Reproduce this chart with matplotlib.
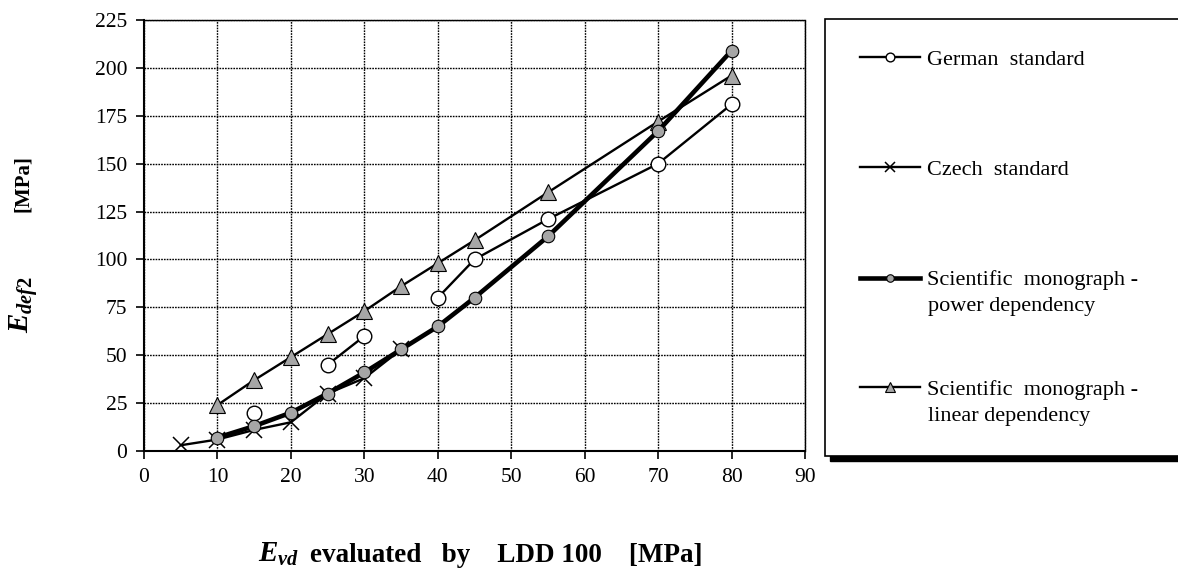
import numpy as np
import matplotlib
matplotlib.use("Agg")
import matplotlib.pyplot as plt
from matplotlib.patches import Rectangle

plt.rcParams['font.family'] = 'Liberation Serif'
plt.rcParams['mathtext.fontset'] = 'custom'
plt.rcParams['mathtext.it'] = 'Liberation Serif:bold:italic'
plt.rcParams['mathtext.rm'] = 'Liberation Serif:bold'

# data (NaN = break in the German line)
german_x = [15, np.nan, 25, 30, np.nan, 40, 45, 55, 70, 80]
german_y = [20, np.nan, 45, 60, np.nan, 80, 100, 121, 150, 181]

czech_x = [5, 10, 15, 20, 25, 30, 35]
czech_y = [3, 6, 11, 15, 30, 38, 53]

power_x = [10, 15, 20, 25, 30, 35, 40, 45, 55, 70, 80]
power_y = [7, 13, 20, 30, 41, 53, 65, 80, 112, 167, 209]

linear_x = [10, 15, 20, 25, 30, 35, 40, 45, 55, 70, 80]
linear_y = [24, 37, 49, 61, 73, 86, 98, 110, 135, 172, 196]

labels_first = ['German  standard', 'Czech  standard',
                'Scientific  monograph -', 'Scientific  monograph -']
labels_second = ['', '', 'power dependency', 'linear dependency']

fig = plt.figure(figsize=(11.78, 5.68), dpi=100)
ax = fig.add_axes([144/1178, 1-451/568, (805-144)/1178, (451-20)/568])

grey = '#a6a6a6'
l_ger, = ax.plot(german_x, german_y, color='black', lw=1.7, marker='o', ms=10.5,
                 mfc='white', mec='black', mew=1.0, zorder=4)
l_cz, = ax.plot(czech_x, czech_y, color='black', lw=1.7, marker='x', ms=11,
                mew=1.1, zorder=3)
l_pow, = ax.plot(power_x, power_y, color='black', lw=3.3, marker='o', ms=9,
                 mfc=grey, mec='black', mew=0.8, zorder=5)
l_lin, = ax.plot(linear_x, linear_y, color='black', lw=1.7, marker='^', ms=11,
                 mfc=grey, mec='black', mew=0.8, zorder=4)

ax.set_xlim(0, 90)
ax.set_ylim(0, 225)
ax.set_xticks(range(0, 91, 10))
ax.set_yticks(range(0, 226, 25))
ax.tick_params(labelsize=15.5, direction='out', length=6, width=1.2, pad=6)
ax.grid(True, color='black', linestyle=(0, (1.2, 0.8)), linewidth=1.0)
ax.set_axisbelow(True)
for s in ['top', 'right']:
    ax.spines[s].set_linestyle((0, (1.2, 0.8)))
    ax.spines[s].set_linewidth(1.0)
ax.spines['left'].set_linewidth(1.5)
ax.spines['bottom'].set_linewidth(1.5)

# y axis title (two parts, as in the original)
fig.text(23/1178, 1-304/568, r'$E_{def2}$', rotation=90, fontsize=21,
         ha='center', va='center')
fig.text(23/1178, 1-184/568, '[MPa]', rotation=90, fontsize=15,
         fontweight='bold', ha='center', va='center')
# x axis title
fig.text(258/1178, 1-562/568, r'$E_{vd}$', fontsize=21, ha='left', va='baseline')
fig.text(310/1178, 1-562/568, 'evaluated   by    LDD 100    [MPa]', fontsize=19.5,
         fontweight='bold', ha='left', va='baseline')

# legend box with shadow
fig.patches.append(Rectangle((830/1178, 1-461/568), 360/1178, 437/568,
                             transform=fig.transFigure, facecolor='black',
                             edgecolor='black', zorder=0))
fig.patches.append(Rectangle((825/1178, 1-456/568), 360/1178, 437/568,
                             transform=fig.transFigure, facecolor='white',
                             edgecolor='black', lw=1.2, zorder=1))

handles = [l_ger, l_cz, l_pow, l_lin]
rows = [60, 170, 280, 390]
for h, lab1, lab2, yr in zip(handles, labels_first, labels_second, rows):
    lg = fig.legend([h], [lab1], loc='center left',
                    bbox_to_anchor=(860/1178, 1-yr/568), frameon=False,
                    fontsize=16, handlelength=2.7, handletextpad=0.3,
                    borderpad=0, borderaxespad=0, markerscale=0.6)
    lg.set_zorder(2)
    if lab2:
        fig.text(928/1178, 1-(yr+27)/568, lab2, fontsize=16, ha='left',
                 va='center', zorder=3)

fig.savefig('out.png', dpi=100)
